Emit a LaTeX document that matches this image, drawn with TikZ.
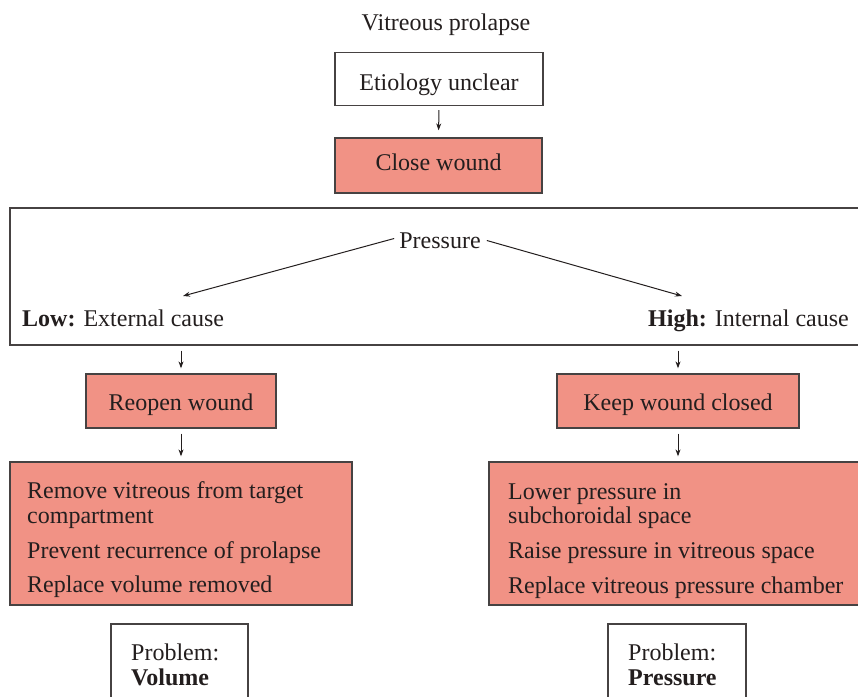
\documentclass[tikz,border=0pt]{standalone}
\usepackage{fontspec}
\setmainfont{Liberation Serif}
\usetikzlibrary{arrows.meta}
\definecolor{salmon}{RGB}{241,146,133}
\definecolor{edge}{RGB}{70,66,66}
\definecolor{ink}{RGB}{35,30,30}
\tikzset{
  txt/.style={font=\fontsize{24}{28}\selectfont, text=ink, inner sep=0pt, text height=16pt, text depth=5pt},
  plainbox/.style={draw=edge, line width=1.3pt, fill=white, inner sep=0pt},
  redbox/.style={draw=edge, line width=1.3pt, fill=salmon, inner sep=0pt},
  arr/.style={draw=ink, line width=1pt, -{Stealth[length=7pt,width=5pt]}},
}
\begin{document}
\begin{tikzpicture}[x=1pt,y=-1pt]
\useasboundingbox (0,0) rectangle (858,696);
\clip (0,0) rectangle (858,696);
% title
\node[txt, anchor=base] (title) at (446,30) {Vitreous prolapse};
% top boxes
\node[plainbox, minimum width=208pt, minimum height=53pt] (etio) at (439,79) {};
\node[txt, anchor=base] (etiot) at (439,90) {Etiology unclear};
\node[redbox, minimum width=207pt, minimum height=55pt] (close) at (438.5,165.5) {};
\node[txt, anchor=base] (closet) at (438.5,170) {Close wound};
\draw[arr, shorten <=4pt, shorten >=7pt] (etio.south) -- (close.north);
% pressure frame
\node[draw=edge, line width=1.3pt, minimum width=870pt, minimum height=137pt, inner sep=0pt] (frame) at (445,276.5) {};
\node[txt, anchor=base] (pres) at (440,248) {Pressure};
\coordinate (lowtip) at (183,296);
\coordinate (hightip) at (682,296);
\draw[arr] ([xshift=-5pt,yshift=4pt]pres.west) -- (lowtip);
\draw[arr] ([xshift=6pt,yshift=2pt]pres.east) -- (hightip);
\node[txt, anchor=base west] (low) at (22,326) {\textbf{Low:} External cause};
\node[txt, anchor=base east] (high) at (849,326) {\textbf{High:} Internal cause};
% left branch
\node[redbox, minimum width=190pt, minimum height=54pt] (reopen) at (181,401) {};
\node[txt, anchor=base] (reopent) at (181,410) {Reopen wound};
\node[redbox, minimum width=342pt, minimum height=143pt] (lbox) at (181,533.5) {};
\draw[arr, shorten <=5pt, shorten >=5pt] (frame.south -| reopen.north) -- (reopen.north);
\draw[arr, shorten <=5pt, shorten >=5pt] (reopen.south) -- (lbox.north -| reopen.south);
\node[txt, anchor=base west] (l1) at (27,498) {Remove vitreous from target};
\node[txt, anchor=base west] (l2) at (27,523) {compartment};
\node[txt, anchor=base west] (l3) at (27,558) {Prevent recurrence of prolapse};
\node[txt, anchor=base west] (l4) at (27,592) {Replace volume removed};
% right branch
\node[redbox, minimum width=242pt, minimum height=54pt] (keep) at (678,401) {};
\node[txt, anchor=base] (keept) at (678,410) {Keep wound closed};
\node[redbox, minimum width=381pt, minimum height=143pt] (rbox) at (679.5,533.5) {};
\draw[arr, shorten <=5pt, shorten >=5pt] (frame.south -| keep.north) -- (keep.north);
\draw[arr, shorten <=5pt, shorten >=5pt] (keep.south) -- (rbox.north -| keep.south);
\node[txt, anchor=base west] (r1) at (508,499) {Lower pressure in};
\node[txt, anchor=base west] (r2) at (508,523) {subchoroidal space};
\node[txt, anchor=base west] (r3) at (508,558) {Raise pressure in vitreous space};
\node[txt, anchor=base west] (r4) at (508,593) {Replace vitreous pressure chamber};
% problem boxes
\node[plainbox, minimum width=137pt, minimum height=90pt] (lprob) at (179.5,669) {};
\node[txt, anchor=base west] (lp1) at (131,660) {Problem:};
\node[txt, anchor=base west] (lp2) at (131,685) {\textbf{Volume}};
\node[plainbox, minimum width=138pt, minimum height=90pt] (rprob) at (677,669) {};
\node[txt, anchor=base west] (rp1) at (628,660) {Problem:};
\node[txt, anchor=base west] (rp2) at (628,685) {\textbf{Pressure}};
\end{tikzpicture}
\end{document}
